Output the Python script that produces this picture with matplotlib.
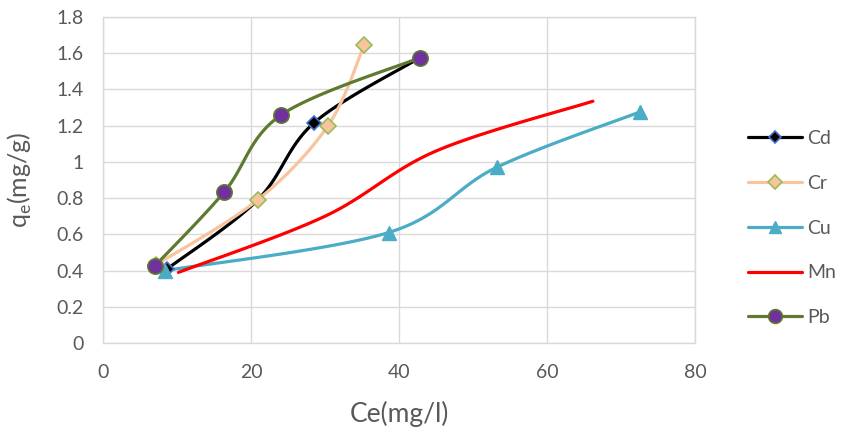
import numpy as np
import matplotlib
matplotlib.use("Agg")
import matplotlib.pyplot as plt
from matplotlib.lines import Line2D

plt.rcParams['font.family'] = ['Lato', 'DejaVu Sans']

# Data
cd_x = [8.7, 20.9, 28.5, 42.8]
cd_y = [0.41, 0.79, 1.215, 1.575]
cr_x = [7.1, 20.9, 30.4, 35.3]
cr_y = [0.43, 0.79, 1.20, 1.646]
cu_x = [8.4, 38.6, 53.2, 72.5]
cu_y = [0.40, 0.61, 0.97, 1.275]
mn_x = [10.2, 30.0, 45.0, 66.2]
mn_y = [0.39, 0.70, 1.06, 1.335]
pb_x = [7.0, 16.4, 24.1, 42.8]
pb_y = [0.425, 0.835, 1.26, 1.575]

x_ticks = [0, 20, 40, 60, 80]
y_ticks = [0, 0.2, 0.4, 0.6, 0.8, 1.0, 1.2, 1.4, 1.6, 1.8]
y_tick_labels = ['0', '0.2', '0.4', '0.6', '0.8', '1', '1.2', '1.4', '1.6', '1.8']


def smooth(ax, xs, ys, n=40):
    # Excel-like smoothing, computed in display space
    pts = ax.transData.transform(np.column_stack([xs, ys]))
    out = [pts[0]]
    m = len(pts)
    for i in range(m - 1):
        p0 = pts[i - 1] if i > 0 else pts[i]
        p1 = pts[i]
        p2 = pts[i + 1]
        p3 = pts[i + 2] if i + 2 < m else pts[i + 1]
        c1 = p1 + (p2 - p0) / 6.0
        c2 = p2 - (p3 - p1) / 6.0
        t = np.linspace(0, 1, n)[1:, None]
        seg = ((1 - t) ** 3) * p1 + 3 * ((1 - t) ** 2) * t * c1 + 3 * (1 - t) * t ** 2 * c2 + t ** 3 * p2
        out.extend(seg)
    out = np.array(out)
    d = ax.transData.inverted().transform(out)
    return d[:, 0], d[:, 1]


fig = plt.figure(figsize=(8.41, 4.38), dpi=100)
ax = fig.add_axes([103 / 841, 1 - 343 / 438, (695 - 103) / 841, (343 - 17) / 438])
ax.set_xlim(0, 80)
ax.set_ylim(0, 1.8)
fig.canvas.draw()

grid_c = '#D9D9D9'
text_c = '#595959'
lw = 2.3

series = [
    ('Cd', cd_x, cd_y, dict(color='black', marker='D', mfc='black', mec='#4472C4', ms=7, mew=1.2)),
    ('Cr', cr_x, cr_y, dict(color='#F8C49E', marker='D', mfc='#F8C49E', mec='#9BBB59', ms=8, mew=1.2)),
    ('Cu', cu_x, cu_y, dict(color='#4BACC6', marker='^', mfc='#4BACC6', mec='#4BACC6', ms=10, mew=1)),
    ('Mn', mn_x, mn_y, dict(color='#FF0000', marker=None)),
    ('Pb', pb_x, pb_y, dict(color='#5E7A30', marker='o', mfc='#7030A0', mec='#5E7A30', ms=11, mew=1.2)),
]

handles = []
for name, xs, ys, st in series:
    sx, sy = smooth(ax, xs, ys)
    ax.plot(sx, sy, color=st['color'], lw=lw, solid_capstyle='round', zorder=3)
    if st.get('marker'):
        ax.plot(xs, ys, ls='none', marker=st['marker'], mfc=st['mfc'], mec=st['mec'],
                ms=st['ms'], mew=st['mew'], zorder=4)
        h = Line2D([], [], color=st['color'], lw=lw, marker=st['marker'], mfc=st['mfc'],
                   mec=st['mec'], ms=st['ms'] * 0.9, mew=st['mew'], solid_capstyle='round')
    else:
        h = Line2D([], [], color=st['color'], lw=lw, solid_capstyle='round')
    handles.append((h, name))

ax.set_xticks(x_ticks)
ax.set_yticks(y_ticks)
ax.set_yticklabels(y_tick_labels)
ax.grid(True, color=grid_c, lw=1)
ax.set_axisbelow(True)
for s in ax.spines.values():
    s.set_color(grid_c)
    s.set_linewidth(1)
ax.tick_params(length=0, labelsize=14, colors=text_c)
ax.tick_params(axis='x', pad=15)
ax.tick_params(axis='y', pad=14)

ax.set_xlabel('Ce(mg/l)', fontsize=19, color=text_c, va='top')
ax.xaxis.set_label_coords(0.5, -0.178)
ax.set_ylabel(r'q$_\mathregular{e}$(mg/g)', fontsize=18, color=text_c, va='bottom')
ax.yaxis.set_label_coords(-0.117, 0.5)

leg = fig.legend([h for h, _ in handles], [n for _, n in handles],
                 loc='center left', bbox_to_anchor=(748 / 841, 1 - 228 / 438),
                 frameon=False, fontsize=14, handlelength=2.8, labelspacing=1.43,
                 handletextpad=0.25, borderpad=0, borderaxespad=0, labelcolor=text_c)

fig.savefig('out.png', dpi=100)
